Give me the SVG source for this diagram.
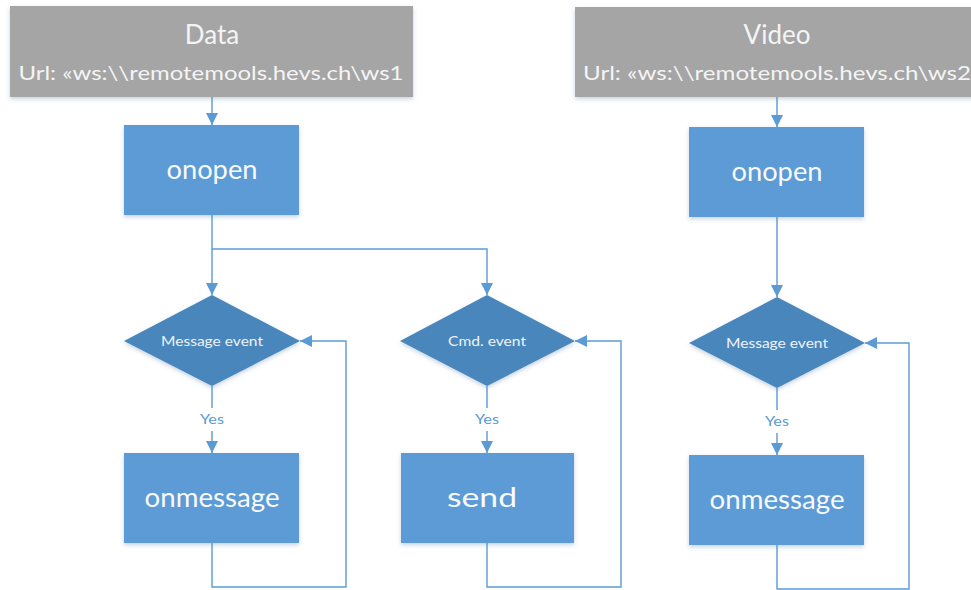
<svg xmlns="http://www.w3.org/2000/svg" width="971" height="590" viewBox="0 0 971 590">
<defs>
<filter id="sh" x="-10%" y="-10%" width="120%" height="130%">
<feDropShadow dx="0" dy="2" stdDeviation="2" flood-color="#5b7fa6" flood-opacity="0.35"/>
</filter>
<marker id="arr" markerWidth="12" markerHeight="12" viewBox="0 0 12 12" refX="12" refY="6" orient="auto" markerUnits="userSpaceOnUse">
<path d="M0,0 L12,6 L0,12 Z" fill="#5B9BD5"/>
</marker>
</defs>
<style>
.hdr{fill:#A5A5A5;filter:url(#sh)}
.box{fill:#5B9BD5;filter:url(#sh)}
.dia{fill:#4A86BC;filter:url(#sh)}
.t{font-family:Lato,"Liberation Sans",sans-serif;fill:#FFFFFF;text-anchor:middle}
.h1{font-size:26px;fill:#F4F4F4}
.h2{font-size:19px;fill:#F4F4F4}
.bt{font-size:27px;fill:#F8FAFD}
.dt{font-size:14px;fill:#EEF3F9}
.yes{font-family:Lato,"Liberation Sans",sans-serif;font-size:14px;fill:#5B9BD5;text-anchor:middle}
.c{fill:none;stroke:#5B9BD5;stroke-width:1.4}
</style>
<rect width="971" height="590" fill="#FFFFFF"/>
<g id="connectors">
<path class="c" d="M212 97 V125" marker-end="url(#arr)"/>
<path class="c" d="M212 215 V295" marker-end="url(#arr)"/>
<path class="c" d="M212 249 H487 V295" marker-end="url(#arr)"/>
<path class="c" d="M212 386 V408 M212 431 V453" marker-end="url(#arr)"/>
<path class="c" d="M212 543 V587 H346 V341 H300" marker-end="url(#arr)"/>
<path class="c" d="M487 386 V408 M487 431 V453" marker-end="url(#arr)"/>
<path class="c" d="M487 543 V587 H621 V341 H575" marker-end="url(#arr)"/>
<path class="c" d="M777 97 V127" marker-end="url(#arr)"/>
<path class="c" d="M777 217 V297" marker-end="url(#arr)"/>
<path class="c" d="M777 388 V410 M777 433 V455" marker-end="url(#arr)"/>
<path class="c" d="M777 545 V589 H909 V343 H865" marker-end="url(#arr)"/>
<text class="yes" x="212" y="424" textLength="24" lengthAdjust="spacingAndGlyphs">Yes</text>
<text class="yes" x="487" y="424" textLength="24" lengthAdjust="spacingAndGlyphs">Yes</text>
<text class="yes" x="777" y="426" textLength="24" lengthAdjust="spacingAndGlyphs">Yes</text>
</g>
<g id="data">
<rect class="hdr" x="10" y="6" width="403" height="91"/>
<text class="t h1" x="212" y="44">Data</text>
<text class="t h2" x="211" y="80" textLength="385" lengthAdjust="spacingAndGlyphs">Url: «ws:\\remotemools.hevs.ch\ws1</text>
</g>
<g id="video">
<rect class="hdr" x="575" y="7" width="404" height="90"/>
<text class="t h1" x="777" y="44">Video</text>
<text class="t h2" x="777" y="80" textLength="388" lengthAdjust="spacingAndGlyphs">Url: «ws:\\remotemools.hevs.ch\ws2</text>
</g>
<g id="onopen1">
<rect class="box" x="124" y="125" width="175" height="90"/>
<text class="t bt" x="212" y="179" textLength="91" lengthAdjust="spacingAndGlyphs">onopen</text>
</g>
<g id="msgevent1">
<polygon class="dia" points="212,295 300,341 212,386 124,341"/>
<text class="t dt" x="212" y="346" textLength="102" lengthAdjust="spacingAndGlyphs">Message event</text>
</g>
<g id="onmessage1">
<rect class="box" x="124" y="453" width="175" height="90"/>
<text class="t bt" x="212" y="507" textLength="135" lengthAdjust="spacingAndGlyphs">onmessage</text>
</g>
<g id="cmdevent">
<polygon class="dia" points="487,295 575,341 487,386 400,341"/>
<text class="t dt" x="487" y="346" textLength="78" lengthAdjust="spacingAndGlyphs">Cmd. event</text>
</g>
<g id="send">
<rect class="box" x="401" y="453" width="173" height="90"/>
<text class="t bt" x="482" y="507" textLength="70" lengthAdjust="spacingAndGlyphs">send</text>
</g>
<g id="onopen2">
<rect class="box" x="689" y="127" width="175" height="90"/>
<text class="t bt" x="777" y="181" textLength="91" lengthAdjust="spacingAndGlyphs">onopen</text>
</g>
<g id="msgevent2">
<polygon class="dia" points="777,297 865,343 777,388 689,343"/>
<text class="t dt" x="777" y="348" textLength="102" lengthAdjust="spacingAndGlyphs">Message event</text>
</g>
<g id="onmessage2">
<rect class="box" x="689" y="455" width="175" height="90"/>
<text class="t bt" x="777" y="509" textLength="135" lengthAdjust="spacingAndGlyphs">onmessage</text>
</g>
</svg>
